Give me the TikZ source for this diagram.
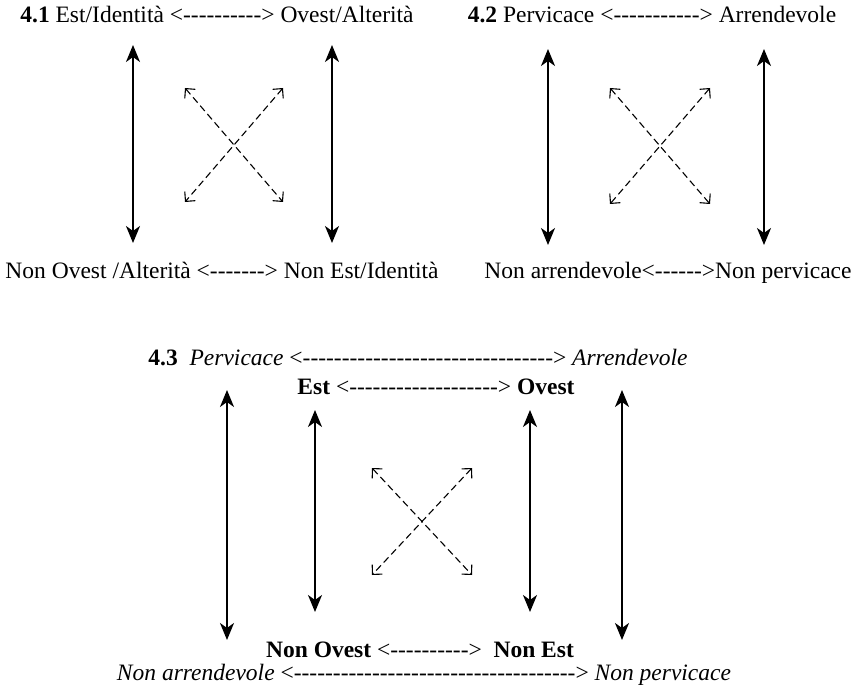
\documentclass[tikz,border=0pt]{standalone}
\usepackage{fontspec}
\setmainfont{Liberation Serif}
\usetikzlibrary{arrows.meta}
\newcount\dcnt
\newcommand\dashrun[1]{\dcnt=#1\relax\loop\ifnum\dcnt>0 -\kern0pt\advance\dcnt by -1\repeat}
\begin{document}
\begin{tikzpicture}[x=1pt,y=-1pt,
 lbl/.style={anchor=base,inner sep=0pt,font=\fontsize{23.5}{28}\selectfont},
 solidarr/.style={{Stealth[length=17pt,width=14pt,inset=5pt]}-{Stealth[length=17pt,width=14pt,inset=5pt]},line width=2pt},
 dasharr/.style={{Straight Barb[length=7pt,width=14pt]}-{Straight Barb[length=7pt,width=14pt]},line width=1.1pt,dash pattern=on 7pt off 4pt}]
\useasboundingbox (0,0) rectangle (863,687);
% texts
\node[lbl] (t41) at (217,23) {\textbf{4.1} Est/Identità <\dashrun{10}> Ovest/Alterità};
\node[lbl] (b41) at (222,279) {Non Ovest /Alterità <\dashrun{7}> Non Est/Identità};
\node[lbl] (t42) at (652,23) {\textbf{4.2} Pervicace <\dashrun{11}> Arrendevole};
\node[lbl] (b42) at (668,279) {Non arrendevole<\dashrun{6}>Non pervicace};
\node[lbl] (t43) at (418,366) {\textbf{4.3}\ \ \textit{Pervicace} <\dashrun{32}> \textit{Arrendevole}};
\node[lbl] (e43) at (436,394) {\textbf{Est} <\dashrun{19}> \textbf{Ovest}};
\node[lbl] (n43) at (420,657) {\textbf{Non Ovest} <\dashrun{10}>\ \ \textbf{Non Est}};
\node[lbl] (b43) at (424,680) {\textit{Non arrendevole} <\dashrun{36}> \textit{Non pervicace}};
% panel 4.1
\coordinate (p1lt) at (133,45); \coordinate (p1lb) at (133,243);
\coordinate (p1rt) at (332,45); \coordinate (p1rb) at (332,243);
\coordinate (x1tl) at (185,88); \coordinate (x1tr) at (283,88);
\coordinate (x1bl) at (185,202); \coordinate (x1br) at (283,202);
\draw[solidarr] (p1lt) -- (p1lb);
\draw[solidarr] (p1rt) -- (p1rb);
\draw[dasharr] (x1tl) -- (x1br);
\draw[dasharr] (x1tr) -- (x1bl);
% panel 4.2
\coordinate (p2lt) at (548,49); \coordinate (p2lb) at (548,245);
\coordinate (p2rt) at (764,49); \coordinate (p2rb) at (764,245);
\coordinate (x2tl) at (610,88); \coordinate (x2tr) at (710,88);
\coordinate (x2bl) at (610,204); \coordinate (x2br) at (710,204);
\draw[solidarr] (p2lt) -- (p2lb);
\draw[solidarr] (p2rt) -- (p2rb);
\draw[dasharr] (x2tl) -- (x2br);
\draw[dasharr] (x2tr) -- (x2bl);
% panel 4.3
\coordinate (p3olt) at (227,390); \coordinate (p3olb) at (227,640);
\coordinate (p3ort) at (622,390); \coordinate (p3orb) at (622,640);
\coordinate (p3ilt) at (315,410); \coordinate (p3ilb) at (315,612);
\coordinate (p3irt) at (530,410); \coordinate (p3irb) at (530,612);
\coordinate (x3tl) at (372,468); \coordinate (x3tr) at (472,468);
\coordinate (x3bl) at (372,575); \coordinate (x3br) at (472,575);
\draw[solidarr] (p3olt) -- (p3olb);
\draw[solidarr] (p3ort) -- (p3orb);
\draw[solidarr] (p3ilt) -- (p3ilb);
\draw[solidarr] (p3irt) -- (p3irb);
\draw[dasharr] (x3tl) -- (x3br);
\draw[dasharr] (x3tr) -- (x3bl);
\end{tikzpicture}
\end{document}
